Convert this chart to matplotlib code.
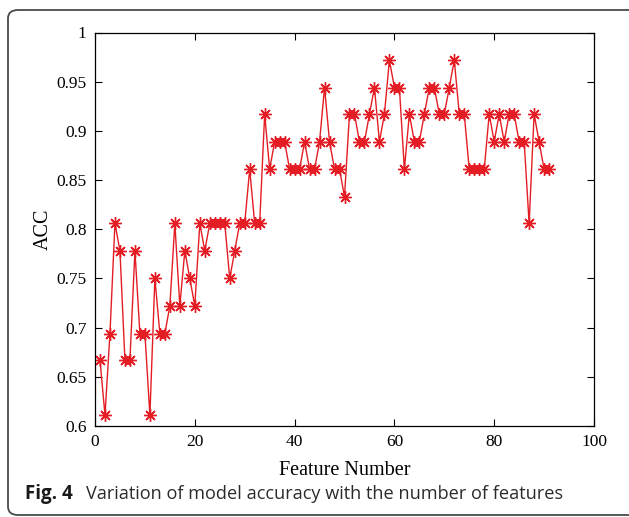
import matplotlib
matplotlib.use('Agg')
import matplotlib.pyplot as plt
from matplotlib.patches import FancyBboxPatch
import numpy as np

# accuracy values (multiples of 1/36)
features = list(range(1, 92))
acc = [0.667, 0.611, 0.694, 0.806, 0.778, 0.667, 0.667, 0.778, 0.694, 0.694,
       0.611, 0.750, 0.694, 0.694, 0.722, 0.806, 0.722, 0.778, 0.750, 0.722,
       0.806, 0.778, 0.806, 0.806, 0.806, 0.806, 0.750, 0.778, 0.806, 0.806,
       0.861, 0.806, 0.806, 0.917, 0.861, 0.889, 0.889, 0.889, 0.861, 0.861,
       0.861, 0.889, 0.861, 0.861, 0.889, 0.944, 0.889, 0.861, 0.861, 0.833,
       0.917, 0.917, 0.889, 0.889, 0.917, 0.944, 0.889, 0.917, 0.972, 0.944,
       0.944, 0.861, 0.917, 0.889, 0.889, 0.917, 0.944, 0.944, 0.917, 0.917,
       0.944, 0.972, 0.917, 0.917, 0.861, 0.861, 0.861, 0.861, 0.917, 0.889,
       0.917, 0.889, 0.917, 0.917, 0.889, 0.889, 0.806, 0.917, 0.889, 0.861,
       0.861]

xticks = [0, 20, 40, 60, 80, 100]
yticks = [0.6, 0.65, 0.7, 0.75, 0.8, 0.85, 0.9, 0.95, 1.0]
ytick_labels = ['0.6', '0.65', '0.7', '0.75', '0.8', '0.85', '0.9', '0.95', '1']

W, H = 629, 517
fig = plt.figure(figsize=(W/100, H/100), dpi=100)

# rounded frame around the whole figure (right edge runs off the image)
frame = FancyBboxPatch((8/W, 2/H), (640-8)/W, (507-2)/H,
                       boxstyle='round,pad=0.0,rounding_size=0.016',
                       transform=fig.transFigure, fill=False,
                       edgecolor='#4a4a4a', lw=1.3, clip_on=False)
fig.patches.append(frame)

ax = fig.add_axes([95/W, 1-426/H, 499/W, 393.5/H])
red = '#e41d25'
ax.plot(features, acc, '-', color=red, lw=1.0,
        marker=(8, 2, 0), markersize=9, markeredgewidth=1.0,
        markeredgecolor=red)

ax.set_xlim(0, 100)
ax.set_ylim(0.6, 1.0)
ax.set_xticks(xticks)
ax.set_yticks(yticks)
ax.set_yticklabels(ytick_labels)
serif = 'Liberation Serif'
for lab in ax.get_xticklabels() + ax.get_yticklabels():
    lab.set_fontfamily(serif)
    lab.set_fontsize(12.5)
ax.tick_params(direction='in', top=True, right=True, length=5, width=0.8,
               pad=6, colors='black')
for s in ax.spines.values():
    s.set_linewidth(0.9)
ax.set_xlabel('Feature Number', fontfamily=serif, fontsize=14.5, labelpad=8)
ax.set_ylabel('ACC', fontfamily=serif, fontsize=14.5, labelpad=3)

fig.text(25/W, 1-494/H, 'Fig. 4', fontfamily='Open Sans', fontweight='bold',
         fontsize=13.5, color='#1a1a1a', va='center')
fig.text(86/W, 1-494/H, 'Variation of model accuracy with the number of features',
         fontfamily='Open Sans', fontsize=13.1, color='#2b2b2b', va='center')

fig.savefig('out.png', dpi=100)
